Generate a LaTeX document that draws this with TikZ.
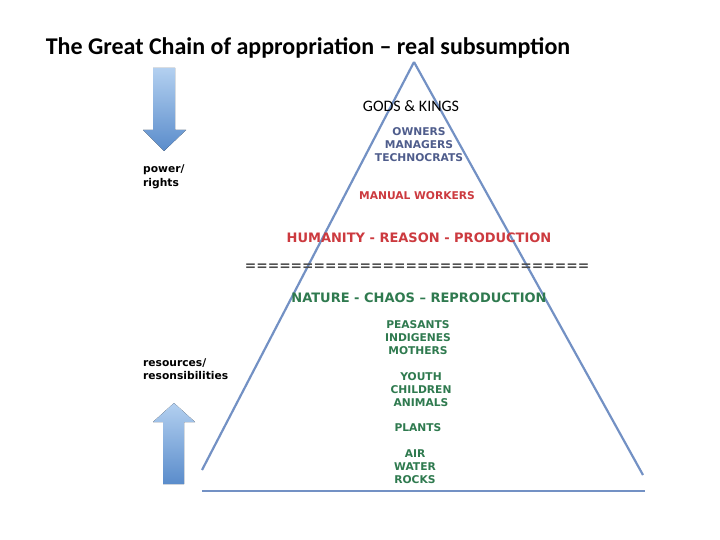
\documentclass[tikz,border=0pt]{standalone}
\usepackage{fontspec}
\setmainfont{Carlito}
\newfontfamily\verd{DejaVu Sans}
\definecolor{chainblue}{HTML}{7391C4}
\definecolor{bossblue}{HTML}{4F5D8C}
\definecolor{workred}{HTML}{CC3A3F}
\definecolor{natgreen}{HTML}{2F7A4F}
\definecolor{arrowtop}{HTML}{B3D0F0}
\definecolor{arrowbot}{HTML}{5A8CCB}

\begin{document}
\begin{tikzpicture}[x=1pt, y=-1pt, every node/.style={inner sep=0pt},
	lab/.style={font=\verd\bfseries\fontsize{10.7}{13.2}\selectfont, align=center, anchor=north},
	big/.style={font=\verd\bfseries\fontsize{13}{15}\selectfont},
	side/.style={font=\verd\bfseries\fontsize{10.7}{13.2}\selectfont, align=left, anchor=north west},
	fat/.style={top color=arrowtop, bottom color=arrowbot, draw=none}]
			\useasboundingbox (0,0) rectangle (720,540);
			
			\node[anchor=base, font=\bfseries\fontsize{24}{28}\selectfont] (title) at (308,55) {The Great Chain of appropriation – real subsumption};
			
			\coordinate (apex) at (414,62);
			\coordinate (bl) at (202,470);
			\coordinate (br) at (643,475);
			\coordinate (basel) at (202,491);
			\coordinate (baser) at (645,491);
			\draw[chainblue, line width=2.2pt] (apex) -- (bl);
			\draw[chainblue, line width=2.2pt] (apex) -- (br);
			\draw[chainblue, line width=2.2pt] (basel) -- (baser);
			
			\fill[fat] (153,68) -- (175,68) -- (175,130) -- (186,130) -- (164,151) -- (143,130) -- (153,130) -- cycle;
			\fill[fat] (163,484) -- (184,484) -- (184,422) -- (195,422) -- (174,403) -- (153,422) -- (163,422) -- cycle;
			
			\node[side] (power) at (143,165) {power/\\rights};
			\node[side] (resources) at (143,358) {resources/\\resonsibilities};
			
			\node[anchor=base, font=\fontsize{16}{18}\selectfont] (gods) at (411,112) {GODS \& KINGS};
			\node[lab, text=bossblue] (owners) at (419,127) {OWNERS\\MANAGERS\\TECHNOCRATS};
			\node[lab, text=workred] (manual) at (417,191) {MANUAL WORKERS};
			\node[lab, big, text=workred] (humanity) at (419,232.5) {HUMANITY - REASON - PRODUCTION};
			\node[lab, big, anchor=center, text=black!70, font=\verd\bfseries\fontsize{13.7}{15}\selectfont] (divide) at (417,267) {==============================};
			\node[lab, big, text=natgreen] (nature) at (419,292.5) {NATURE - CHAOS – REPRODUCTION};
			\node[lab, text=natgreen] (peasants) at (418,320) {PEASANTS\\INDIGENES\\MOTHERS};
			\node[lab, text=natgreen] (youth) at (421,372) {YOUTH\\CHILDREN\\ANIMALS};
			\node[lab, text=natgreen] (plants) at (418,423) {PLANTS};
			\node[lab, text=natgreen] (air) at (415,449) {AIR\\WATER\\ROCKS};
		\end{tikzpicture}
\end{document}
